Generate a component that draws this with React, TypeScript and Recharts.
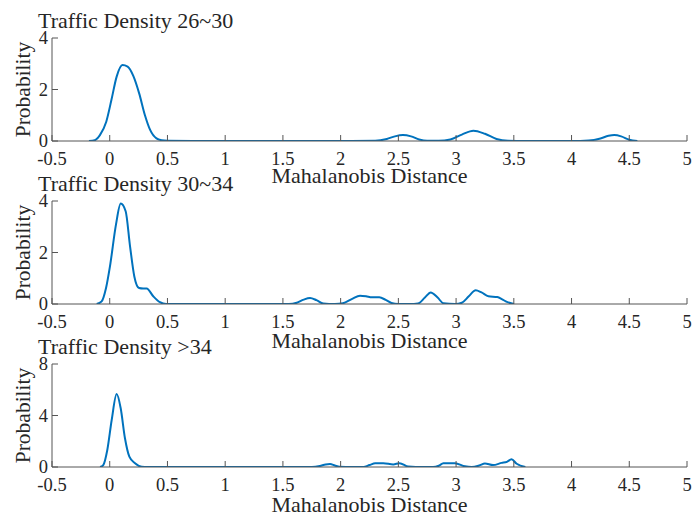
import React from 'react';
import { LineChart, Line, XAxis, YAxis, Label } from 'recharts';

const xTicks = [-0.5, 0, 0.5, 1, 1.5, 2, 2.5, 3, 3.5, 4, 4.5, 5];
const titles = ['Traffic Density 26~30', 'Traffic Density 30~34', 'Traffic Density >34'];
const yTicksA = [0, 2, 4];
const yTicksB = [0, 2, 4];
const yTicksC = [0, 4, 8];

// Traffic Density 26~30
const distA = [-0.18, -0.13, -0.085, -0.03, 0.015, 0.06, 0.11, 0.155, 0.205, 0.255, 0.305, 0.35, 0.405, 0.45, 0.5, 1.0, 1.5, 2.0, 2.3, 2.4, 2.47, 2.54, 2.61, 2.68, 2.75, 2.85, 2.95, 3.05, 3.15, 3.25, 3.35, 3.45, 3.6, 4.0, 4.15, 4.25, 4.32, 4.37, 4.43, 4.5, 4.57];
const probA = [0, 0.03, 0.23, 0.75, 1.6, 2.5, 2.95, 2.89, 2.52, 1.85, 1.0, 0.43, 0.1, 0.03, 0.01, 0, 0, 0, 0.01, 0.08, 0.18, 0.23, 0.18, 0.06, 0.01, 0.01, 0.06, 0.25, 0.4, 0.28, 0.08, 0.01, 0, 0, 0.02, 0.1, 0.2, 0.23, 0.18, 0.05, 0];

// Traffic Density 30~34
const distB = [-0.113, -0.07, -0.032, 0.002, 0.054, 0.095, 0.138, 0.176, 0.213, 0.254, 0.29, 0.32, 0.377, 0.435, 0.49, 1.0, 1.55, 1.62, 1.68, 1.735, 1.79, 1.85, 1.95, 2.02, 2.1, 2.168, 2.22, 2.27, 2.335, 2.39, 2.44, 2.5, 2.6, 2.67, 2.73, 2.78, 2.84, 2.89, 2.99, 3.05, 3.11, 3.17, 3.22, 3.28, 3.357, 3.4, 3.44, 3.5];
const probB = [0, 0.1, 0.62, 1.46, 3.08, 3.9, 3.6, 2.24, 1.07, 0.62, 0.6, 0.6, 0.3, 0.07, 0, 0, 0, 0.05, 0.17, 0.23, 0.15, 0.02, 0, 0.03, 0.2, 0.32, 0.3, 0.26, 0.26, 0.16, 0.04, 0, 0, 0.02, 0.25, 0.45, 0.25, 0.03, 0, 0.05, 0.3, 0.53, 0.45, 0.3, 0.27, 0.18, 0.08, 0];

// Traffic Density >34
const distC = [-0.084, -0.056, -0.021, 0.017, 0.06, 0.095, 0.132, 0.17, 0.219, 0.277, 0.33, 1.0, 1.75, 1.82, 1.87, 1.908, 1.95, 1.99, 2.1, 2.197, 2.25, 2.3, 2.37, 2.456, 2.51, 2.586, 2.65, 2.8, 2.85, 2.89, 2.99, 3.077, 3.135, 3.2, 3.25, 3.32, 3.395, 3.44, 3.48, 3.525, 3.6];
const probC = [0, 0.15, 1.32, 3.65, 5.67, 4.56, 2.23, 0.8, 0.29, 0.02, 0, 0, 0, 0.08, 0.2, 0.23, 0.12, 0.02, 0, 0, 0.15, 0.29, 0.3, 0.2, 0.3, 0.03, 0, 0, 0.1, 0.29, 0.29, 0.05, 0, 0.12, 0.28, 0.15, 0.32, 0.4, 0.6, 0.25, 0];

const FONT = '"Liberation Serif", "Times New Roman", serif';
const AXIS = '#555555';
const TEXT = '#262626';
const LINE = '#0072BD';

const BottomTick = (props: any) => {
  const { x, y, payload } = props;
  return (
    <g>
      <line x1={x} y1={y} x2={x} y2={y - 6} stroke={AXIS} strokeWidth={1} />
      <text x={x} y={y + 24} textAnchor="middle" fontSize={18.5} fontFamily={FONT} fill={TEXT}>
        {String(payload.value)}
      </text>
    </g>
  );
};
const TopTick = (props: any) => {
  const { x, y } = props;
  return <line x1={x} y1={y} x2={x} y2={y + 6} stroke={AXIS} strokeWidth={1} />;
};
const LeftTick = (props: any) => {
  const { x, y, payload } = props;
  return (
    <g>
      <line x1={x} y1={y} x2={x + 6} y2={y} stroke={AXIS} strokeWidth={1} />
      <text x={x - 4} y={y + 6} textAnchor="end" fontSize={18.5} fontFamily={FONT} fill={TEXT}>
        {String(payload.value)}
      </text>
    </g>
  );
};
const RightTick = (props: any) => {
  const { x, y } = props;
  return <line x1={x} y1={y} x2={x - 6} y2={y} stroke={AXIS} strokeWidth={1} />;
};

const XLabel = (props: any) => {
  const vb = props.viewBox;
  return (
    <text x={vb.x + vb.width / 2} y={vb.y + props.gap} textAnchor="middle" fontSize={22} fontFamily={FONT} fill={TEXT}>
      Mahalanobis Distance
    </text>
  );
};
const YLabel = (props: any) => {
  const vb = props.viewBox;
  const cx = 30;
  const cy = vb.y + vb.height / 2;
  return (
    <text x={cx} y={cy} transform={`rotate(-90 ${cx} ${cy})`} textAnchor="middle" fontSize={21.5} fontFamily={FONT} fill={TEXT}>
      Probability
    </text>
  );
};

const W = 694;
const H = 192;

function Panel({ top, title, dist, prob, yTicks, gap }: { top: number; title: string; dist: number[]; prob: number[]; yTicks: number[]; gap: number }) {
  const data = dist.map((d, i) => ({ x: d, y: prob[i] }));
  const yMax = yTicks[yTicks.length - 1];
  return (
    <div style={{ position: 'absolute', left: 0, top, width: W, height: H }}>
      <LineChart width={W} height={H} data={data} margin={{ top: 38, right: 7, bottom: 0, left: 0 }}>
        <XAxis
          dataKey="x"
          type="number"
          domain={[-0.5, 5]}
          ticks={xTicks}
          interval={0}
          allowDataOverflow
          height={51}
          tickSize={0}
          tickMargin={0}
          tickLine={false}
          axisLine={{ stroke: AXIS }}
          tick={<BottomTick />}
        >
          <Label content={<XLabel gap={gap} />} />
        </XAxis>
        <XAxis
          xAxisId="top"
          orientation="top"
          type="number"
          domain={[-0.5, 5]}
          ticks={xTicks}
          interval={0}
          allowDataOverflow
          height={0}
          tickSize={0}
          tickMargin={0}
          tickLine={false}
          axisLine={{ stroke: AXIS }}
          tick={<TopTick />}
        />
        <YAxis
          type="number"
          domain={[0, yMax]}
          ticks={yTicks}
          interval={0}
          allowDataOverflow
          width={52}
          tickSize={0}
          tickMargin={0}
          tickLine={false}
          axisLine={{ stroke: AXIS }}
          tick={<LeftTick />}
        >
          <Label content={<YLabel />} />
        </YAxis>
        <YAxis
          yAxisId="right"
          orientation="right"
          type="number"
          domain={[0, yMax]}
          ticks={yTicks}
          interval={0}
          allowDataOverflow
          width={0}
          tickSize={0}
          tickMargin={0}
          tickLine={false}
          axisLine={{ stroke: AXIS }}
          tick={<RightTick />}
        />
        <Line
          type="monotone"
          dataKey="y"
          stroke={LINE}
          strokeWidth={2}
          dot={false}
          activeDot={false}
          isAnimationActive={false}
        />
      </LineChart>
      <div
        style={{
          position: 'absolute',
          left: 38,
          top: 9,
          fontFamily: FONT,
          fontSize: 22,
          lineHeight: '24px',
          color: TEXT,
          whiteSpace: 'nowrap',
        }}
      >
        {title}
      </div>
    </div>
  );
}

export default function App() {
  return (
    <div style={{ position: 'absolute', left: 0, top: 0, width: W, height: 516, background: '#fff' }}>
      <Panel top={0} title={titles[0]} dist={distA} prob={probA} yTicks={yTicksA} gap={42} />
      <Panel top={163} title={titles[1]} dist={distB} prob={probB} yTicks={yTicksB} gap={44} />
      <Panel top={326} title={titles[2]} dist={distC} prob={probC} yTicks={yTicksC} gap={45} />
    </div>
  );
}
